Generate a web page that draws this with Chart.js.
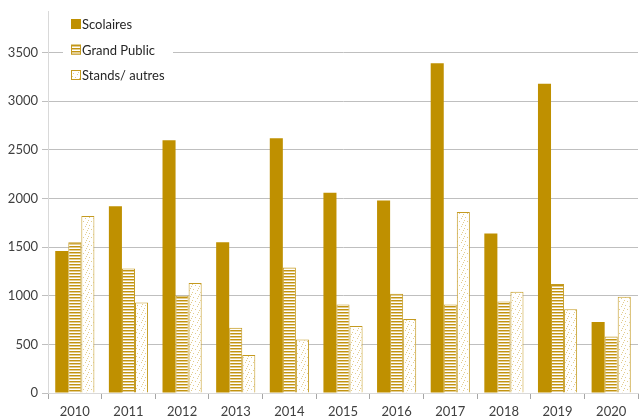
<!DOCTYPE html>
<html>
<head>
<meta charset="utf-8">
<script src="https://cdn.jsdelivr.net/npm/chart.js@4.4.1/dist/chart.umd.min.js"></script>
<style>
  html, body { margin: 0; padding: 0; background: #fff; }
  #wrap { width: 642px; height: 420px; }
</style>
</head>
<body>
<div id="wrap"><canvas id="chart" width="642" height="420"></canvas></div>
<script>
const years = ["2010", "2011", "2012", "2013", "2014", "2015", "2016", "2017", "2018", "2019", "2020"];
const scolaires = [1460, 1920, 2600, 1550, 2620, 2060, 1980, 3390, 1640, 3180, 730];
const grandPublic = [1550, 1280, 1000, 670, 1290, 910, 1020, 910, 940, 1120, 580];
const stands = [1820, 930, 1130, 390, 550, 690, 760, 1860, 1040, 860, 990];
const seriesNames = ["Scolaires", "Grand Public", "Stands/ autres"];
const yTicks = [0, 500, 1000, 1500, 2000, 2500, 3000, 3500];

const gold = "#BF9000";
const fontFamily = "Lato, 'Open Sans', sans-serif";

// Striped fill for "Grand Public"
function makeStripes() {
  const c = document.createElement("canvas");
  c.width = 4;
  c.height = 3;
  const g = c.getContext("2d");
  g.fillStyle = "#FFFFFF";
  g.fillRect(0, 0, 4, 3);
  g.fillStyle = "#C39410";
  g.fillRect(0, 0, 4, 1);
  g.fillStyle = "#E3CD92";
  g.fillRect(0, 1, 4, 1);
  return g.createPattern(c, "repeat");
}

// Sparse dotted fill for "Stands/ autres"
function makeDots() {
  const c = document.createElement("canvas");
  c.width = 8;
  c.height = 8;
  const g = c.getContext("2d");
  g.fillStyle = "#FFFFFF";
  g.fillRect(0, 0, 8, 8);
  g.fillStyle = "#E2CC8E";
  [[1, 1], [5, 2], [3, 5], [7, 6], [0, 4], [6, 0]].forEach(([x, y]) => g.fillRect(x, y, 1, 1));
  return g.createPattern(c, "repeat");
}

const stripeFill = makeStripes();
const dotFill = makeDots();

// Legend drawn inside the plot area, top-left
const insideLegend = {
  id: "insideLegend",
  afterDatasetsDraw(chart) {
    const ctx = chart.ctx;
    ctx.save();
    ctx.fillStyle = "#FFFFFF";
    ctx.fillRect(63, 12, 110, 74);
    const fills = chart.data.datasets.map((d) => d.backgroundColor);
    const borders = chart.data.datasets.map((d) => d.borderColor);
    ctx.font = "13px " + fontFamily;
    ctx.textBaseline = "middle";
    seriesNames.forEach((name, i) => {
      const y = 24 + i * 25.5;
      ctx.fillStyle = fills[i];
      ctx.fillRect(71, y - 5, 10, 10);
      ctx.strokeStyle = borders[i];
      ctx.lineWidth = 1;
      ctx.strokeRect(71.5, y - 4.5, 9, 9);
      ctx.fillStyle = "#262626";
      ctx.fillText(name, 82, y + 1);
    });
    ctx.restore();
  },
};

const chart = new Chart(document.getElementById("chart"), {
  type: "bar",
  data: {
    labels: years,
    datasets: [
      {
        label: seriesNames[0],
        data: scolaires,
        backgroundColor: gold,
        borderColor: gold,
        borderWidth: 0,
      },
      {
        label: seriesNames[1],
        data: grandPublic,
        backgroundColor: stripeFill,
        borderColor: "#C49A20",
        borderWidth: 1,
      },
      {
        label: seriesNames[2],
        data: stands,
        backgroundColor: dotFill,
        borderColor: "#C49A20",
        borderWidth: 1,
      },
    ],
  },
  options: {
    responsive: false,
    animation: false,
    layout: { padding: { top: 8, right: 4, left: 0, bottom: 0 } },
    datasets: {
      bar: { categoryPercentage: 0.73, barPercentage: 1 },
    },
    plugins: {
      legend: { display: false },
      tooltip: { enabled: false },
    },
    scales: {
      x: {
        grid: {
          drawOnChartArea: false,
          drawTicks: true,
          tickLength: 6,
          color: "#A6A6A6",
          offset: true,
        },
        border: { color: "#D9D9D9" },
        ticks: { color: "#404040", font: { family: fontFamily, size: 13 }, padding: 5 },
        afterFit(scale) {
          scale.height = 27;
        },
      },
      y: {
        min: 0,
        max: 3920,
        ticks: {
          stepSize: 500,
          color: "#404040",
          font: { family: fontFamily, size: 13 },
          padding: 4,
          callback: (v) => String(v),
        },
        afterBuildTicks(scale) {
          scale.ticks = yTicks.map((v) => ({ value: v }));
        },
        grid: { color: "#BFBFBF", tickLength: 6 },
        border: { color: "#D9D9D9" },
        afterFit(scale) {
          scale.width = 48;
        },
      },
    },
  },
  plugins: [insideLegend],
});
</script>
</body>
</html>
